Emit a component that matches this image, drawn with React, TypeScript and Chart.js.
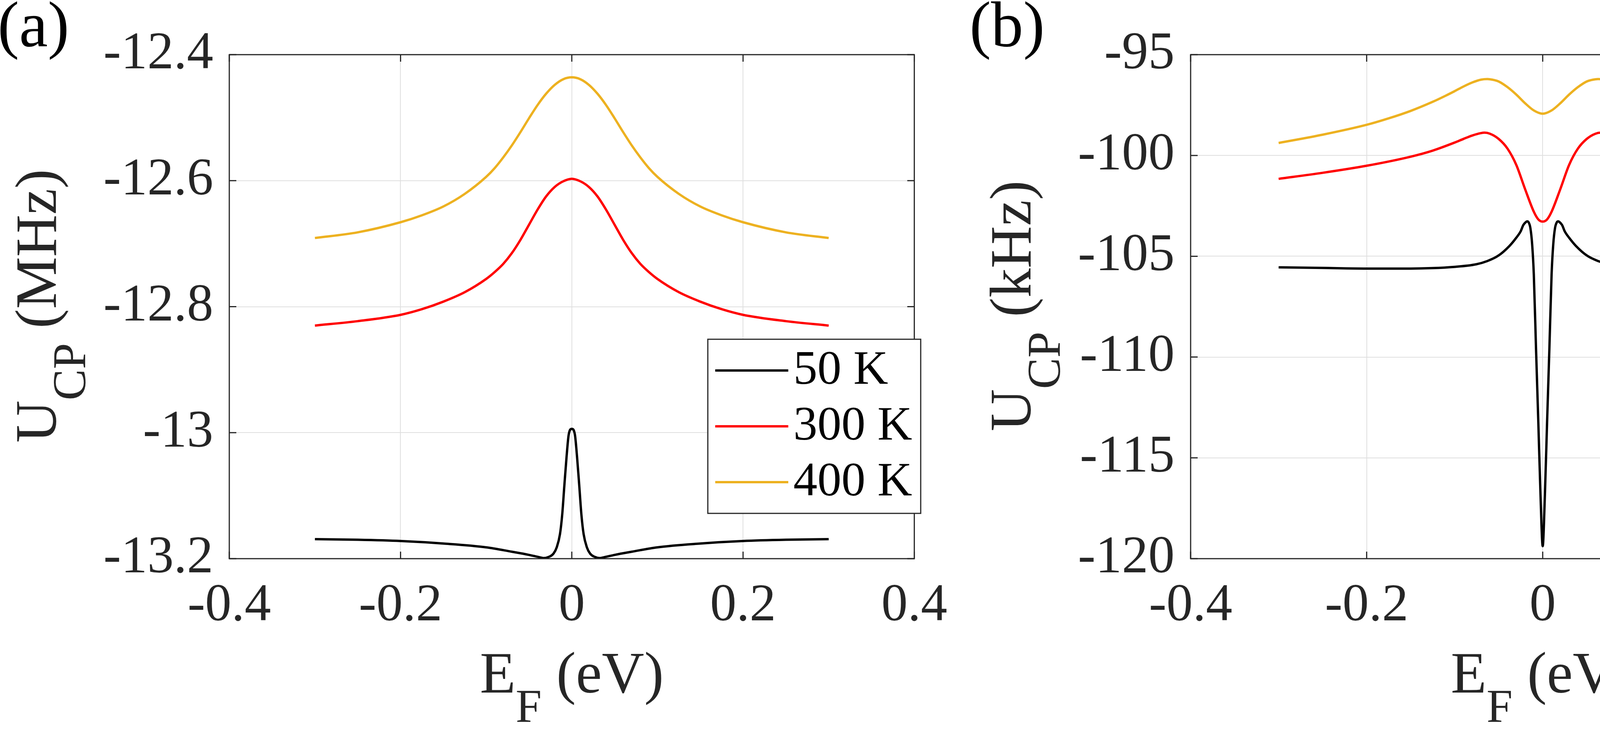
import React, { useEffect, useRef } from 'react';
import { Chart, registerables } from 'chart.js';

Chart.register(...registerables);

const FONT = '"Liberation Serif", "Times New Roman", Times, serif';

// ---------- data ----------
const seriesLabels = ['50 K', '300 K', '400 K'];
const seriesColors = ['#000000', '#FF0000', '#EDB120'];

const xTickValues = [-0.4, -0.2, 0, 0.2, 0.4];
const xTickLabels = ['-0.4', '-0.2', '0', '0.2', '0.4'];

const yTickValuesA = [-13.2, -13, -12.8, -12.6, -12.4];
const yTickLabelsA = ['-13.2', '-13', '-12.8', '-12.6', '-12.4'];
const yTickValuesB = [-120, -115, -110, -105, -100, -95];
const yTickLabelsB = ['-120', '-115', '-110', '-105', '-100', '-95'];

// Panel (a): U_CP in MHz
const xA400 = [-0.3, -0.25, -0.2, -0.175, -0.15, -0.125, -0.1, -0.09, -0.08, -0.07, -0.06, -0.05, -0.04, -0.03, -0.02, -0.01, 0,
  0.01, 0.02, 0.03, 0.04, 0.05, 0.06, 0.07, 0.08, 0.09, 0.1, 0.125, 0.15, 0.175, 0.2, 0.25, 0.3];
const yA400 = [-12.691, -12.682, -12.666, -12.655, -12.641, -12.621, -12.594, -12.58, -12.563, -12.544, -12.523, -12.501, -12.48, -12.462, -12.448, -12.439, -12.436,
  -12.439, -12.448, -12.462, -12.48, -12.501, -12.523, -12.544, -12.563, -12.58, -12.594, -12.621, -12.641, -12.655, -12.666, -12.682, -12.691];

const xA300 = [-0.3, -0.25, -0.2, -0.175, -0.15, -0.125, -0.1, -0.09, -0.08, -0.07, -0.06, -0.05, -0.04, -0.03, -0.02, -0.01, 0,
  0.01, 0.02, 0.03, 0.04, 0.05, 0.06, 0.07, 0.08, 0.09, 0.1, 0.125, 0.15, 0.175, 0.2, 0.25, 0.3];
const yA300 = [-12.83, -12.823, -12.813, -12.804, -12.792, -12.777, -12.756, -12.745, -12.732, -12.715, -12.694, -12.67, -12.646, -12.625, -12.61, -12.601, -12.597,
  -12.601, -12.61, -12.625, -12.646, -12.67, -12.694, -12.715, -12.732, -12.745, -12.756, -12.777, -12.792, -12.804, -12.813, -12.823, -12.83];

const xA50 = [-0.3, -0.25, -0.2, -0.15, -0.1, -0.07, -0.05, -0.04, -0.033, -0.0265, -0.0214, -0.0176, -0.0138, -0.0112, -0.0087, -0.0061, -0.0036, 0,
  0.0036, 0.0061, 0.0087, 0.0112, 0.0138, 0.0176, 0.0214, 0.0265, 0.033, 0.04, 0.05, 0.07, 0.1, 0.15, 0.2, 0.25, 0.3];
const yA50 = [-13.169, -13.17, -13.172, -13.176, -13.182, -13.189, -13.194, -13.197, -13.199, -13.197, -13.192, -13.182, -13.161, -13.13, -13.084, -13.038, -13.003, -12.994,
  -13.003, -13.038, -13.084, -13.13, -13.161, -13.182, -13.192, -13.197, -13.199, -13.197, -13.194, -13.189, -13.182, -13.176, -13.172, -13.17, -13.169];

// Panel (b): U_CP in kHz
const xB400 = [-0.3, -0.25, -0.2, -0.175, -0.15, -0.125, -0.11, -0.1, -0.09, -0.08, -0.07, -0.063, -0.055, -0.05, -0.04, -0.03, -0.02, -0.01, 0,
  0.01, 0.02, 0.03, 0.04, 0.05, 0.055, 0.063, 0.07, 0.08, 0.09, 0.1, 0.11, 0.125, 0.15, 0.175, 0.2, 0.25, 0.3];
const yB400 = [-99.38, -98.97, -98.48, -98.16, -97.79, -97.34, -97.03, -96.81, -96.58, -96.38, -96.24, -96.21, -96.26, -96.33, -96.61, -96.98, -97.41, -97.77, -97.93,
  -97.77, -97.41, -96.98, -96.61, -96.33, -96.26, -96.21, -96.24, -96.38, -96.58, -96.81, -97.03, -97.34, -97.79, -98.16, -98.48, -98.97, -99.38];

const xB300 = [-0.3, -0.25, -0.2, -0.15, -0.125, -0.1, -0.09, -0.08, -0.07, -0.066, -0.06, -0.05, -0.04, -0.03, -0.02, -0.01, -0.005, 0,
  0.005, 0.01, 0.02, 0.03, 0.04, 0.05, 0.06, 0.066, 0.07, 0.08, 0.09, 0.1, 0.125, 0.15, 0.2, 0.25, 0.3];
const yB300 = [-101.16, -100.86, -100.51, -100.06, -99.76, -99.36, -99.18, -99.01, -98.89, -98.87, -98.92, -99.18, -99.66, -100.47, -101.67, -102.8, -103.17, -103.28,
  -103.17, -102.8, -101.67, -100.47, -99.66, -99.18, -98.92, -98.87, -98.89, -99.01, -99.18, -99.36, -99.76, -100.06, -100.51, -100.86, -101.16];

const xB50 = [-0.3, -0.25, -0.2, -0.15, -0.126, -0.101, -0.0756, -0.063, -0.0504, -0.0378, -0.03, -0.025, -0.022, -0.019, -0.0176, -0.016, -0.014, -0.012, -0.0101, -0.0076, -0.005, -0.0025, 0,
  0.0025, 0.005, 0.0076, 0.0101, 0.012, 0.014, 0.016, 0.0176, 0.019, 0.022, 0.025, 0.03, 0.0378, 0.0504, 0.063, 0.0756, 0.101, 0.126, 0.15, 0.2, 0.25, 0.3];
const yB50 = [-105.55, -105.58, -105.61, -105.61, -105.59, -105.53, -105.4, -105.24, -104.97, -104.49, -104.08, -103.76, -103.45, -103.3, -103.27, -103.32, -103.6, -104.4, -105.9, -109.57, -113.2, -116.83, -119.38,
  -116.83, -113.2, -109.57, -105.9, -104.4, -103.6, -103.32, -103.27, -103.3, -103.45, -103.76, -104.08, -104.49, -104.97, -105.24, -105.4, -105.53, -105.59, -105.61, -105.61, -105.58, -105.55];

// ---------- layout / style ----------
const AXIS_COLOR = '#262626';
const GRID_COLOR = '#dfdfdf';
const TICK_LEN = 18;
const TICK_FONT = 135;
const TITLE_FONT = 150;
const SUB_FONT = 120;
const SUB_DROP = 75;
const LEGEND_FONT = 123;
const PANEL_FONT = 165;
const LINE_WIDTH = 6;

type Panel = {
  left: number;
  width: number;
  panelLabel: string;
  panelLabelX: number;
  yUnit: string;
  yMin: number;
  yMax: number;
  yTicks: number[];
  yTickLabels: string[];
  yWidth: number;
  padRight: number;
  yTitleX: number;
  legendX: number;
  legendY: number;
  xs: number[][];
  ys: number[][];
};

const panels: Panel[] = [
  {
    left: 0, width: 2480, panelLabel: '(a)', panelLabelX: -6, yUnit: ' (MHz)',
    yMin: -13.2, yMax: -12.4, yTicks: yTickValuesA, yTickLabels: yTickLabelsA,
    yWidth: 587, padRight: 105, yTitleX: 143, legendX: 1812, legendY: 869,
    xs: [xA50, xA300, xA400], ys: [yA50, yA300, yA400],
  },
  {
    left: 2480, width: 2510, panelLabel: '(b)', panelLabelX: 2, yUnit: ' (kHz)',
    yMin: -120, yMax: -95, yTicks: yTickValuesB, yTickLabels: yTickLabelsB,
    yWidth: 568, padRight: 119, yTitleX: 158, legendX: 1793, legendY: 852,
    xs: [xB50, xB300, xB400], ys: [yB50, yB300, yB400],
  },
];

function font(size: number) {
  return `${size}px ${FONT}`;
}

function drawRich(ctx: CanvasRenderingContext2D, segs: { t: string; sub: boolean }[], cx: number, baseY: number) {
  const widths = segs.map((s) => {
    ctx.font = font(s.sub ? SUB_FONT : TITLE_FONT);
    return ctx.measureText(s.t).width;
  });
  const total = widths.reduce((a, b) => a + b, 0);
  let x = cx - total / 2;
  ctx.textAlign = 'left';
  ctx.textBaseline = 'alphabetic';
  segs.forEach((s, i) => {
    ctx.font = font(s.sub ? SUB_FONT : TITLE_FONT);
    ctx.fillText(s.t, x, s.sub ? baseY + SUB_DROP : baseY);
    x += widths[i];
  });
}

function makeDecor(p: Panel) {
  return {
    id: 'decor',
    afterDatasetsDraw(chart: any) {
      const ctx: CanvasRenderingContext2D = chart.ctx;
      const { left, right, top, bottom } = chart.chartArea;
      const xs = chart.scales.x;
      const ys = chart.scales.y;
      ctx.save();
      // inner ticks
      ctx.strokeStyle = AXIS_COLOR;
      ctx.lineWidth = 3;
      ctx.beginPath();
      xTickValues.forEach((v) => {
        const px = xs.getPixelForValue(v);
        ctx.moveTo(px, bottom);
        ctx.lineTo(px, bottom - TICK_LEN);
        ctx.moveTo(px, top);
        ctx.lineTo(px, top + TICK_LEN);
      });
      p.yTicks.forEach((v) => {
        const py = ys.getPixelForValue(v);
        ctx.moveTo(left, py);
        ctx.lineTo(left + TICK_LEN, py);
        ctx.moveTo(right, py);
        ctx.lineTo(right - TICK_LEN, py);
      });
      ctx.stroke();
      ctx.strokeRect(left, top, right - left, bottom - top);

      // legend
      const lw = 545;
      const lh = 446;
      ctx.fillStyle = '#ffffff';
      ctx.fillRect(p.legendX, p.legendY, lw, lh);
      ctx.strokeStyle = AXIS_COLOR;
      ctx.lineWidth = 3;
      ctx.strokeRect(p.legendX, p.legendY, lw, lh);
      const rowY = [80, 223, 366];
      seriesLabels.forEach((lab, i) => {
        const y = p.legendY + rowY[i];
        ctx.strokeStyle = seriesColors[i];
        ctx.lineWidth = LINE_WIDTH;
        ctx.beginPath();
        ctx.moveTo(p.legendX + 19, y);
        ctx.lineTo(p.legendX + 206, y);
        ctx.stroke();
        ctx.fillStyle = '#000000';
        ctx.font = font(LEGEND_FONT);
        ctx.textAlign = 'left';
        ctx.textBaseline = 'middle';
        ctx.fillText(lab, p.legendX + 219, y + 2);
      });

      // x title
      ctx.fillStyle = AXIS_COLOR;
      drawRich(ctx, [{ t: 'E', sub: false }, { t: 'F', sub: true }, { t: ' (eV)', sub: false }], (left + right) / 2, bottom + 343);

      // y title (rotated)
      ctx.save();
      ctx.translate(p.yTitleX, (top + bottom) / 2 - 2);
      ctx.rotate(-Math.PI / 2);
      drawRich(ctx, [{ t: 'U', sub: false }, { t: 'CP', sub: true }, { t: p.yUnit, sub: false }], 0, 0);
      ctx.restore();

      // panel label
      ctx.fillStyle = '#000000';
      ctx.font = font(PANEL_FONT);
      ctx.textAlign = 'left';
      ctx.textBaseline = 'alphabetic';
      ctx.fillText(p.panelLabel, p.panelLabelX, 118);
      ctx.restore();
    },
  };
}

function labelFor(values: number[], labels: string[], v: number) {
  const i = values.findIndex((t) => Math.abs(t - v) < 1e-9);
  return i >= 0 ? labels[i] : '';
}

function PanelChart({ p }: { p: Panel }) {
  const ref = useRef<HTMLCanvasElement | null>(null);
  useEffect(() => {
    if (!ref.current) return;
    const datasets = seriesLabels.map((lab, i) => ({
      label: lab,
      data: p.xs[i].map((x, j) => ({ x, y: p.ys[i][j] })),
      borderColor: seriesColors[i],
      backgroundColor: seriesColors[i],
      borderWidth: LINE_WIDTH,
      pointRadius: 0,
      fill: false,
      cubicInterpolationMode: 'monotone' as const,
    }));
    const chart = new Chart(ref.current, {
      type: 'line',
      data: { datasets },
      options: {
        animation: false,
        responsive: false,
        devicePixelRatio: 1,
        events: [],
        layout: { padding: { left: 0, right: p.padRight, top: 140, bottom: 0 } },
        plugins: { legend: { display: false }, tooltip: { enabled: false } },
        scales: {
          x: {
            type: 'linear',
            min: -0.4,
            max: 0.4,
            afterBuildTicks: (s: any) => {
              s.ticks = xTickValues.map((v) => ({ value: v }));
            },
            afterFit: (s: any) => {
              s.height = 444;
            },
            ticks: {
              autoSkip: false,
              maxRotation: 0,
              minRotation: 0,
              padding: 55,
              color: AXIS_COLOR,
              font: { family: FONT, size: TICK_FONT, lineHeight: 1 },
              callback: (v: any) => labelFor(xTickValues, xTickLabels, Number(v)),
            },
            grid: { color: GRID_COLOR, lineWidth: 2, drawTicks: false },
            border: { display: false },
          },
          y: {
            type: 'linear',
            min: p.yMin,
            max: p.yMax,
            afterBuildTicks: (s: any) => {
              s.ticks = p.yTicks.map((v) => ({ value: v }));
            },
            afterFit: (s: any) => {
              s.width = p.yWidth;
            },
            ticks: {
              autoSkip: false,
              padding: 41,
              color: AXIS_COLOR,
              font: { family: FONT, size: TICK_FONT, lineHeight: 1 },
              callback: (v: any) => labelFor(p.yTicks, p.yTickLabels, Number(v)),
            },
            grid: { color: GRID_COLOR, lineWidth: 2, drawTicks: false },
            border: { display: false },
          },
        },
      },
      plugins: [makeDecor(p)],
    } as any);
    return () => chart.destroy();
  }, [p]);
  return (
    <canvas
      ref={ref}
      width={p.width}
      height={1875}
      style={{ position: 'absolute', left: p.left, top: 0, width: p.width, height: 1875 }}
    />
  );
}

export default function App() {
  return (
    <div style={{ position: 'absolute', left: 0, top: 0, width: 4990, height: 1875, background: '#ffffff', overflow: 'hidden' }}>
      {panels.map((p) => (
        <PanelChart key={p.panelLabel} p={p} />
      ))}
    </div>
  );
}
